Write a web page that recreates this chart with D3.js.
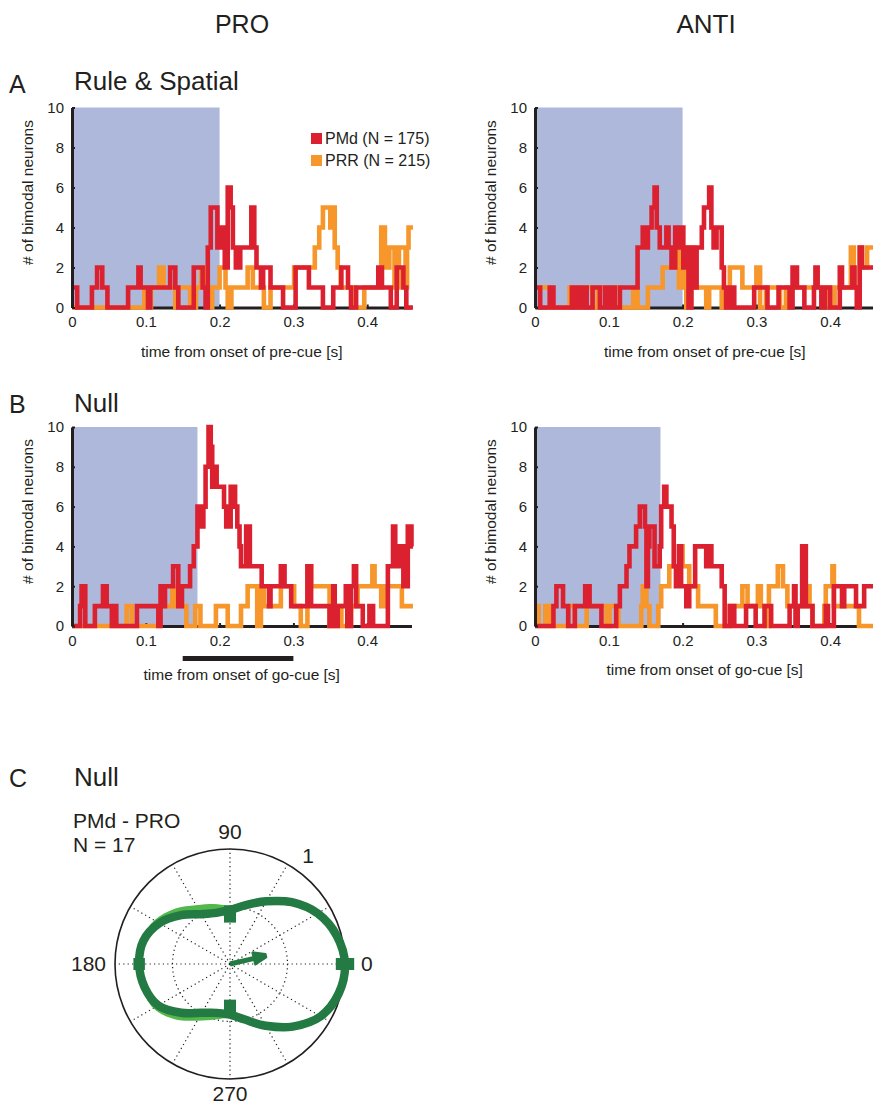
<!DOCTYPE html>
<html>
<head>
<meta charset="utf-8">
<script src="https://cdn.jsdelivr.net/npm/d3@7"></script>
<style>
  body { margin: 0; background: #fff; }
  svg { display: block; }
  text { font-family: "Liberation Sans", Arial, Helvetica, sans-serif; fill: #231f20; }
</style>
</head>
<body>
<svg id="fig" width="873" height="1104"></svg>
<script>
// ---------- tick values ----------
const timeTicks = [0, 0.1, 0.2, 0.3, 0.4];
const countTicks = [0, 2, 4, 6, 8, 10];
const seriesLabels = ["PMd (N = 175)", "PRR (N = 215)"];

// ---------- step traces: [time (s), number of bimodal neurons from that time on] ----------
// A, PRO (pre-cue aligned)
const pmdRulePro = [[0,1],[0.007,0],[0.027,1],[0.034,2],[0.041,1],[0.048,0],[0.076,1],[0.09,2],[0.093,1],[0.103,0],[0.106,1],[0.133,2],[0.14,1],[0.144,0],[0.165,2],[0.177,1],[0.181,0],[0.184,3],[0.188,5],[0.197,3],[0.203,4],[0.207,2],[0.211,6],[0.215,5],[0.218,3],[0.222,2],[0.228,3],[0.243,5],[0.247,3],[0.25,2],[0.256,1],[0.259,2],[0.269,1],[0.286,0],[0.303,2],[0.321,1],[0.34,0],[0.354,1],[0.365,2],[0.374,1],[0.378,0],[0.385,1],[0.415,2],[0.42,1],[0.432,0],[0.44,2],[0.449,1],[0.453,0],[0.462,0]];
const prrRulePro = [[0,0],[0.098,1],[0.104,0],[0.107,1],[0.118,2],[0.124,1],[0.14,0],[0.144,1],[0.16,0],[0.168,1],[0.175,2],[0.18,1],[0.186,0],[0.19,1],[0.2,2],[0.208,1],[0.211,0],[0.216,1],[0.238,2],[0.245,1],[0.26,0],[0.269,1],[0.301,2],[0.329,3],[0.335,4],[0.34,5],[0.35,4],[0.353,5],[0.356,3],[0.36,2],[0.364,1],[0.384,0],[0.396,1],[0.419,4],[0.424,2],[0.43,3],[0.437,1],[0.443,3],[0.452,1],[0.454,3],[0.456,4],[0.462,4]];

// A, ANTI (pre-cue aligned)
const pmdRuleAnti = [[0,1],[0.007,0],[0.02,1],[0.025,0],[0.05,1],[0.055,0],[0.058,1],[0.063,0],[0.065,1],[0.07,0],[0.078,1],[0.088,0],[0.095,1],[0.1,0],[0.104,1],[0.108,0],[0.115,1],[0.139,3],[0.146,4],[0.15,3],[0.153,4],[0.158,5],[0.162,6],[0.165,4],[0.169,3],[0.178,4],[0.181,3],[0.185,2],[0.19,4],[0.193,3],[0.197,4],[0.201,2],[0.205,3],[0.208,0],[0.212,3],[0.216,1],[0.219,3],[0.226,4],[0.229,5],[0.236,6],[0.239,4],[0.242,3],[0.246,4],[0.253,2],[0.256,1],[0.259,0],[0.265,1],[0.27,0],[0.297,1],[0.315,0],[0.33,1],[0.345,0],[0.349,2],[0.355,1],[0.365,0],[0.378,1],[0.38,2],[0.383,1],[0.388,0],[0.393,1],[0.4,0],[0.413,2],[0.416,1],[0.43,2],[0.433,1],[0.436,0],[0.44,3],[0.443,2],[0.46,2]];
const prrRuleAnti = [[0,1],[0.02,0],[0.047,1],[0.06,0],[0.063,1],[0.078,0],[0.085,1],[0.115,0],[0.133,1],[0.139,0],[0.153,1],[0.173,2],[0.19,3],[0.195,1],[0.2,3],[0.205,0],[0.21,3],[0.216,1],[0.232,0],[0.236,1],[0.253,0],[0.264,2],[0.281,1],[0.3,2],[0.305,0],[0.313,1],[0.332,0],[0.34,1],[0.399,0],[0.406,1],[0.428,3],[0.432,1],[0.44,3],[0.443,2],[0.45,3],[0.46,3]];

// B, PRO (go-cue aligned)
const pmdNullPro = [[0,0],[0.011,1],[0.013,2],[0.018,0],[0.031,1],[0.042,2],[0.047,1],[0.054,0],[0.057,1],[0.06,0],[0.088,1],[0.117,0],[0.12,2],[0.124,1],[0.126,2],[0.137,3],[0.144,1],[0.149,2],[0.16,3],[0.165,4],[0.17,6],[0.176,5],[0.178,6],[0.181,8],[0.185,10],[0.188,9],[0.19,7],[0.193,8],[0.196,7],[0.206,6],[0.209,5],[0.215,7],[0.221,6],[0.224,5],[0.227,4],[0.229,3],[0.236,5],[0.241,3],[0.257,2],[0.267,1],[0.269,2],[0.283,3],[0.288,2],[0.297,1],[0.319,3],[0.324,1],[0.349,0],[0.354,2],[0.356,0],[0.36,1],[0.371,2],[0.373,0],[0.378,2],[0.382,3],[0.385,1],[0.394,0],[0.403,1],[0.408,0],[0.428,3],[0.435,5],[0.438,3],[0.444,4],[0.449,2],[0.455,5],[0.46,4],[0.462,4]];
const prrNullPro = [[0,0],[0.074,1],[0.081,0],[0.119,1],[0.136,2],[0.14,1],[0.155,0],[0.167,1],[0.174,0],[0.195,1],[0.211,0],[0.229,1],[0.238,2],[0.251,0],[0.256,2],[0.26,1],[0.283,2],[0.301,1],[0.31,0],[0.319,3],[0.324,2],[0.349,0],[0.36,1],[0.365,0],[0.378,1],[0.387,2],[0.407,3],[0.41,2],[0.419,1],[0.424,2],[0.447,1],[0.462,1]];

// B, ANTI (go-cue aligned)
const pmdNullAnti = [[0,0],[0.025,1],[0.029,2],[0.038,1],[0.045,0],[0.054,1],[0.068,2],[0.074,1],[0.09,0],[0.11,1],[0.115,2],[0.124,3],[0.128,4],[0.137,5],[0.142,6],[0.149,5],[0.151,2],[0.153,4],[0.155,5],[0.162,3],[0.169,4],[0.171,6],[0.175,7],[0.178,6],[0.185,5],[0.188,3],[0.191,2],[0.195,4],[0.198,2],[0.205,1],[0.209,2],[0.217,4],[0.232,3],[0.236,4],[0.239,3],[0.253,2],[0.257,0],[0.264,1],[0.27,0],[0.286,1],[0.299,0],[0.311,1],[0.32,0],[0.345,1],[0.351,2],[0.353,0],[0.356,1],[0.362,4],[0.367,1],[0.376,0],[0.394,1],[0.397,0],[0.405,2],[0.416,1],[0.419,2],[0.435,1],[0.446,2],[0.46,2]];
const prrNullAnti = [[0,1],[0.005,0],[0.014,1],[0.02,0],[0.045,1],[0.054,0],[0.07,1],[0.097,0],[0.101,1],[0.113,0],[0.144,1],[0.146,2],[0.151,1],[0.155,0],[0.167,1],[0.171,2],[0.182,3],[0.196,4],[0.2,3],[0.209,2],[0.221,1],[0.245,0],[0.264,1],[0.281,2],[0.288,1],[0.302,2],[0.306,1],[0.313,0],[0.317,2],[0.329,3],[0.336,2],[0.342,1],[0.369,2],[0.372,1],[0.376,0],[0.392,1],[0.394,2],[0.403,3],[0.405,1],[0.439,0],[0.46,0]];

// cue periods (shaded) and analysis window (bar under B PRO)
const cueEndRule = 0.2;
const cueEndNull = 0.17;
const analysisWindow = [0.15, 0.3];

// ---------- C: polar tuning, PMd - PRO ----------
const polarAngles = [0,15,30,45,60,75,90,105,120,135,150,165,180,195,210,225,240,255,270,285,300,315,330,345];
const tuningMean  = [1.00,0.96,0.88,0.76,0.63,0.53,0.47,0.46,0.50,0.60,0.71,0.78,0.79,0.77,0.72,0.60,0.49,0.44,0.44,0.50,0.62,0.77,0.91,0.98];
const tuningHigh  = [1.02,0.98,0.90,0.78,0.65,0.56,0.51,0.54,0.59,0.68,0.76,0.80,0.81,0.79,0.77,0.68,0.57,0.50,0.47,0.52,0.64,0.79,0.93,1.00];
const tuningLow   = [0.98,0.94,0.86,0.74,0.61,0.51,0.45,0.44,0.48,0.58,0.69,0.76,0.77,0.75,0.70,0.58,0.47,0.42,0.42,0.48,0.60,0.75,0.89,0.96];
const errorAngles = [0, 90, 180, 270];
const errorLow    = [0.92, 0.36, 0.74, 0.31];
const errorHigh   = [1.08, 0.51, 0.84, 0.47];
const meanVectorAngle = 13;
const meanVectorLength = 0.31;
const polarRingValues = [0.5, 1];
const polarSpokes = [0,30,60,90,120,150,180,210,240,270,300,330];

// ---------- drawing ----------
const ink = "#231f20";
const red = "#db2130";
const orange = "#f6962b";
const shade = "#aeb8db";
const darkGreen = "#247a43";
const lightGreen = "#52b84b";
const traceWidth = 4.6;

const svg = d3.select("#fig");

function text(x, y, str, size, anchor = "start", extra = {}) {
  const t = svg.append("text").attr("x", x).attr("y", y)
    .attr("font-size", size).attr("text-anchor", anchor).text(str);
  Object.entries(extra).forEach(([k, v]) => t.attr(k, v));
  return t;
}

// column headers, panel letters and titles
text(242, 33, "PRO", 25, "middle");
text(706, 33, "ANTI", 26, "middle");
text(9, 93, "A", 25);
text(74, 90, "Rule & Spatial", 26);
text(9, 413, "B", 25);
text(74, 412, "Null", 26);
text(9, 787, "C", 25);
text(74, 786, "Null", 26);

const panels = [
  { left: 72,  top: 107.5, bottom: 307.5, cueEnd: cueEndRule, pmd: pmdRulePro,  prr: prrRulePro,  xlabel: "time from onset of pre-cue [s]", legend: true },
  { left: 535, top: 107.5, bottom: 307.5, cueEnd: cueEndRule, pmd: pmdRuleAnti, prr: prrRuleAnti, xlabel: "time from onset of pre-cue [s]" },
  { left: 72,  top: 427,   bottom: 626,   cueEnd: cueEndNull, pmd: pmdNullPro,  prr: prrNullPro,  xlabel: "time from onset of go-cue [s]", windowBar: true },
  { left: 535, top: 427,   bottom: 626,   cueEnd: cueEndNull, pmd: pmdNullAnti, prr: prrNullAnti, xlabel: "time from onset of go-cue [s]" }
];

const pxPerSecond = 738;
const tMax = 0.46;

panels.forEach(p => {
  const x = d3.scaleLinear().domain([0, tMax]).range([p.left, p.left + tMax * pxPerSecond]);
  const y = d3.scaleLinear().domain([0, 10]).range([p.bottom, p.top]);
  const g = svg.append("g");

  // cue period
  g.append("rect")
    .attr("x", x(0)).attr("y", y(10))
    .attr("width", x(p.cueEnd) - x(0)).attr("height", y(0) - y(10))
    .attr("fill", shade);

  // x axis
  const xAxis = d3.axisBottom(x).tickValues(timeTicks).tickFormat(d3.format("~g"))
    .tickSize(-3).tickSizeOuter(0).tickPadding(9);
  const gx = g.append("g").attr("transform", `translate(0,${y(0)})`).call(xAxis);
  gx.select(".domain").attr("stroke", ink).attr("stroke-width", 3);
  gx.selectAll(".tick line").attr("stroke", ink).attr("stroke-width", 2);
  gx.selectAll(".tick text").attr("font-size", 15).attr("fill", ink)
    .attr("font-family", "'Liberation Sans', Arial, sans-serif");

  // traces
  const line = d3.line().x(d => x(d[0])).y(d => y(d[1])).curve(d3.curveStepAfter);
  g.append("path").datum(p.prr).attr("d", line)
    .attr("fill", "none").attr("stroke", orange).attr("stroke-width", traceWidth)
    .attr("stroke-linejoin", "miter");
  g.append("path").datum(p.pmd).attr("d", line)
    .attr("fill", "none").attr("stroke", red).attr("stroke-width", traceWidth)
    .attr("stroke-linejoin", "miter");

  // y axis
  const yAxis = d3.axisLeft(y).tickValues(countTicks).tickSize(-3).tickSizeOuter(0).tickPadding(8);
  const gy = g.append("g").attr("transform", `translate(${x(0)},0)`).call(yAxis);
  gy.select(".domain").attr("stroke", ink).attr("stroke-width", 3);
  gy.selectAll(".tick line").attr("stroke", ink).attr("stroke-width", 2);
  gy.selectAll(".tick text").attr("font-size", 15).attr("fill", ink)
    .attr("font-family", "'Liberation Sans', Arial, sans-serif");

  // axis titles
  const labelMid = (p.top + p.bottom) / 2 - 15;
  text(p.left - 39, labelMid, "# of bimodal neurons", 15.5, "middle",
    { transform: `rotate(-90,${p.left - 39},${labelMid})` });
  const labelY = p.bottom + (p.windowBar ? 54 : 49);
  text(x(0.23), labelY, p.xlabel, 15.5, "middle");

  if (p.windowBar) {
    g.append("rect")
      .attr("x", x(analysisWindow[0])).attr("y", p.bottom + 30)
      .attr("width", x(analysisWindow[1]) - x(analysisWindow[0])).attr("height", 5)
      .attr("fill", ink);
  }

  if (p.legend) {
    const colors = [red, orange];
    seriesLabels.forEach((s, i) => {
      g.append("rect").attr("x", 311).attr("y", 133 + i * 22).attr("width", 11).attr("height", 11)
        .attr("fill", colors[i]);
      text(325, 144 + i * 22, s, 16);
    });
  }
});

// ---------- polar plot ----------
const cx = 230, cy = 964;
const r = d3.scaleLinear().domain([0, 1]).range([0, 115]);
const pg = svg.append("g").attr("transform", `translate(${cx},${cy})`);
const toRad = a => a * Math.PI / 180;
const pt = (deg, val) => [r(val) * Math.cos(toRad(deg)), -r(val) * Math.sin(toRad(deg))];

// grid
polarSpokes.forEach(a => {
  const [x2, y2] = pt(a, 1);
  pg.append("line").attr("x1", 0).attr("y1", 0).attr("x2", x2).attr("y2", y2)
    .attr("stroke", ink).attr("stroke-width", 1.2).attr("stroke-dasharray", "1.2,3.2");
});
polarRingValues.forEach(v => {
  pg.append("circle").attr("r", r(v)).attr("fill", "none").attr("stroke", ink)
    .attr("stroke-width", v === 1 ? 1.6 : 1.2)
    .attr("stroke-dasharray", v === 1 ? null : "1.2,3.2");
});

// d3 radial angle: clockwise from 12 o'clock
const radialAngle = deg => Math.PI / 2 - toRad(deg);
const bandData = polarAngles.map((a, i) => ({ a, lo: tuningLow[i], hi: tuningHigh[i] }));
const band = d3.areaRadial()
  .angle(d => radialAngle(d.a))
  .innerRadius(d => r(d.lo)).outerRadius(d => r(d.hi))
  .curve(d3.curveCardinalClosed);
pg.append("path").datum(bandData).attr("d", band).attr("fill", lightGreen)
  .attr("fill-rule", "evenodd");

const curve = d3.lineRadial()
  .angle((d, i) => radialAngle(polarAngles[i]))
  .radius(d => r(d))
  .curve(d3.curveCardinalClosed);
pg.append("path").datum(tuningMean).attr("d", curve)
  .attr("fill", "none").attr("stroke", darkGreen).attr("stroke-width", 8.5);

// error bars at the four cardinal directions
errorAngles.forEach((a, i) => {
  const [x1, y1] = pt(a, errorLow[i]);
  const [x2, y2] = pt(a, errorHigh[i]);
  pg.append("line").attr("x1", x1).attr("y1", y1).attr("x2", x2).attr("y2", y2)
    .attr("stroke", darkGreen).attr("stroke-width", 12);
});

// mean vector
const vg = pg.append("g").attr("transform", `rotate(${-meanVectorAngle})`);
const vecLen = r(meanVectorLength);
vg.append("line").attr("x1", 0).attr("y1", 0).attr("x2", vecLen - 6).attr("y2", 0)
  .attr("stroke", darkGreen).attr("stroke-width", 5);
vg.append("path")
  .attr("d", `M${vecLen - 11},-6 L${vecLen + 1},-1.5 L${vecLen + 1},1.5 L${vecLen - 11},6 Z`)
  .attr("fill", darkGreen).attr("stroke", darkGreen).attr("stroke-width", 2.5)
  .attr("stroke-linejoin", "round");

// polar labels
text(cx, 839, "90", 21, "middle");
text(cx, 1101, "270", 21, "middle");
text(106, 971, "180", 21, "end");
text(361, 971, "0", 21, "start");
text(308, 863, "1", 21, "middle");
text(73, 828, "PMd - PRO", 21);
text(73, 852, "N = 17", 21);
</script>
</body>
</html>
